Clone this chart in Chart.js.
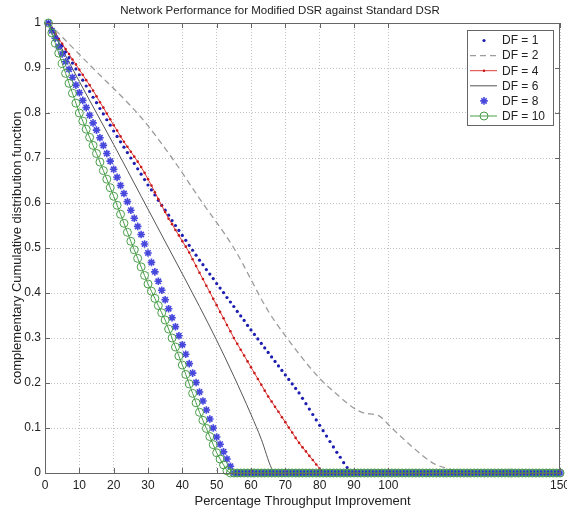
<!DOCTYPE html>
<html>
<head>
<meta charset="utf-8">
<script src="https://cdn.jsdelivr.net/npm/chart.js@4/dist/chart.umd.min.js"></script>
<style>
  html, body { margin: 0; padding: 0; background: #fff; }
  canvas { display: block; }
</style>
</head>
<body>
<canvas id="cdf" width="567" height="516"></canvas>
<script>
// percentage throughput improvement, sampled every 1 %
const xs = [
  1, 2, 3, 4, 5, 6, 7, 8, 9, 10,
  11, 12, 13, 14, 15, 16, 17, 18, 19, 20,
  21, 22, 23, 24, 25, 26, 27, 28, 29, 30,
  31, 32, 33, 34, 35, 36, 37, 38, 39, 40,
  41, 42, 43, 44, 45, 46, 47, 48, 49, 50,
  51, 52, 53, 54, 55, 56, 57, 58, 59, 60,
  61, 62, 63, 64, 65, 66, 67, 68, 69, 70,
  71, 72, 73, 74, 75, 76, 77, 78, 79, 80,
  81, 82, 83, 84, 85, 86, 87, 88, 89, 90,
  91, 92, 93, 94, 95, 96, 97, 98, 99, 100,
  101, 102, 103, 104, 105, 106, 107, 108, 109, 110,
  111, 112, 113, 114, 115, 116, 117, 118, 119, 120,
  121, 122, 123, 124, 125, 126, 127, 128, 129, 130,
  131, 132, 133, 134, 135, 136, 137, 138, 139, 140,
  141, 142, 143, 144, 145, 146, 147, 148, 149, 150
];

const df1 = [
  1.000, 0.987, 0.974, 0.962, 0.949, 0.936, 0.923, 0.911, 0.898, 0.885,
  0.873, 0.860, 0.848, 0.835, 0.823, 0.810, 0.798, 0.785, 0.773, 0.760,
  0.748, 0.736, 0.724, 0.712, 0.700, 0.688, 0.676, 0.664, 0.652, 0.640,
  0.629, 0.618, 0.606, 0.595, 0.584, 0.573, 0.561, 0.550, 0.539, 0.528,
  0.517, 0.506, 0.495, 0.484, 0.473, 0.463, 0.452, 0.442, 0.432, 0.421,
  0.411, 0.401, 0.390, 0.380, 0.370, 0.359, 0.349, 0.339, 0.328, 0.318,
  0.308, 0.298, 0.288, 0.278, 0.268, 0.258, 0.248, 0.238, 0.228, 0.218,
  0.208, 0.198, 0.188, 0.178, 0.166, 0.154, 0.142, 0.130, 0.118, 0.106,
  0.094, 0.082, 0.070, 0.058, 0.046, 0.035, 0.023, 0.012, 0, 0,
  0, 0, 0, 0, 0, 0, 0, 0, 0, 0,
  0, 0, 0, 0, 0, 0, 0, 0, 0, 0,
  0, 0, 0, 0, 0, 0, 0, 0, 0, 0,
  0, 0, 0, 0, 0, 0, 0, 0, 0, 0,
  0, 0, 0, 0, 0, 0, 0, 0, 0, 0,
  0, 0, 0, 0, 0, 0, 0, 0, 0, 0
];

// DF = 2 and DF = 6 are plain lines, read at the bends
const df2X = [1, 13, 28, 37, 45, 55, 65, 70, 80, 85, 90, 93, 97, 101, 107, 113, 118, 121, 150];
const df2 = [1, 0.907, 0.79, 0.70, 0.61, 0.50, 0.36, 0.305, 0.21, 0.175, 0.144, 0.133, 0.128, 0.10, 0.058, 0.022, 0.008, 0, 0];

const df4 = [
  1.000, 0.988, 0.977, 0.965, 0.954, 0.942, 0.931, 0.919, 0.908, 0.896,
  0.885, 0.873, 0.862, 0.850, 0.837, 0.824, 0.812, 0.799, 0.786, 0.773,
  0.761, 0.748, 0.736, 0.725, 0.714, 0.703, 0.692, 0.680, 0.667, 0.653,
  0.639, 0.624, 0.609, 0.594, 0.580, 0.565, 0.553, 0.540, 0.528, 0.515,
  0.503, 0.490, 0.475, 0.460, 0.445, 0.431, 0.416, 0.402, 0.387, 0.373,
  0.358, 0.344, 0.329, 0.315, 0.300, 0.287, 0.274, 0.261, 0.248, 0.235,
  0.222, 0.209, 0.196, 0.183, 0.170, 0.159, 0.147, 0.136, 0.124, 0.113,
  0.101, 0.090, 0.078, 0.067, 0.057, 0.048, 0.038, 0.029, 0.019, 0.010,
  0, 0, 0, 0, 0, 0, 0, 0, 0, 0,
  0, 0, 0, 0, 0, 0, 0, 0, 0, 0,
  0, 0, 0, 0, 0, 0, 0, 0, 0, 0,
  0, 0, 0, 0, 0, 0, 0, 0, 0, 0,
  0, 0, 0, 0, 0, 0, 0, 0, 0, 0,
  0, 0, 0, 0, 0, 0, 0, 0, 0, 0,
  0, 0, 0, 0, 0, 0, 0, 0, 0, 0
];

const df6X = [1, 10, 20, 28, 36, 45, 50, 55, 60, 63, 66, 67, 150];
const df6 = [1, 0.87, 0.73, 0.615, 0.50, 0.37, 0.295, 0.215, 0.13, 0.075, 0.01, 0, 0];

const df8 = [
  1.000, 0.983, 0.966, 0.948, 0.931, 0.914, 0.897, 0.879, 0.862, 0.845,
  0.828, 0.812, 0.795, 0.778, 0.762, 0.745, 0.728, 0.710, 0.693, 0.675,
  0.657, 0.639, 0.621, 0.603, 0.584, 0.566, 0.548, 0.530, 0.509, 0.489,
  0.468, 0.447, 0.426, 0.406, 0.385, 0.365, 0.345, 0.325, 0.305, 0.285,
  0.264, 0.243, 0.222, 0.201, 0.180, 0.160, 0.140, 0.120, 0.100, 0.080,
  0.064, 0.047, 0.031, 0.015, 0, 0, 0, 0, 0, 0,
  0, 0, 0, 0, 0, 0, 0, 0, 0, 0,
  0, 0, 0, 0, 0, 0, 0, 0, 0, 0,
  0, 0, 0, 0, 0, 0, 0, 0, 0, 0,
  0, 0, 0, 0, 0, 0, 0, 0, 0, 0,
  0, 0, 0, 0, 0, 0, 0, 0, 0, 0,
  0, 0, 0, 0, 0, 0, 0, 0, 0, 0,
  0, 0, 0, 0, 0, 0, 0, 0, 0, 0,
  0, 0, 0, 0, 0, 0, 0, 0, 0, 0,
  0, 0, 0, 0, 0, 0, 0, 0, 0, 0
];

const df10 = [
  1.000, 0.978, 0.955, 0.933, 0.910, 0.888, 0.866, 0.844, 0.822, 0.800,
  0.782, 0.764, 0.746, 0.728, 0.710, 0.691, 0.672, 0.653, 0.634, 0.615,
  0.595, 0.575, 0.555, 0.535, 0.515, 0.496, 0.477, 0.458, 0.439, 0.420,
  0.404, 0.388, 0.372, 0.356, 0.340, 0.320, 0.300, 0.280, 0.260, 0.240,
  0.219, 0.198, 0.177, 0.156, 0.135, 0.117, 0.099, 0.081, 0.063, 0.045,
  0.031, 0.018, 0.005, 0, 0, 0, 0, 0, 0, 0,
  0, 0, 0, 0, 0, 0, 0, 0, 0, 0,
  0, 0, 0, 0, 0, 0, 0, 0, 0, 0,
  0, 0, 0, 0, 0, 0, 0, 0, 0, 0,
  0, 0, 0, 0, 0, 0, 0, 0, 0, 0,
  0, 0, 0, 0, 0, 0, 0, 0, 0, 0,
  0, 0, 0, 0, 0, 0, 0, 0, 0, 0,
  0, 0, 0, 0, 0, 0, 0, 0, 0, 0,
  0, 0, 0, 0, 0, 0, 0, 0, 0, 0,
  0, 0, 0, 0, 0, 0, 0, 0, 0, 0
];

const xTicks = [0, 10, 20, 30, 40, 50, 60, 70, 80, 90, 100, 150];
const yTicks = [0, 0.1, 0.2, 0.3, 0.4, 0.5, 0.6, 0.7, 0.8, 0.9, 1];
const seriesNames = ["DF = 1", "DF = 2", "DF = 4", "DF = 6", "DF = 8", "DF = 10"];

const FONT = "'Liberation Sans', Arial, sans-serif";
const TEXT = "#222";

const pts = (x, y) => x.map((v, i) => ({ x: v, y: y[i] }));

const datasets = [
  { // DF = 1 : dots only
    label: seriesNames[0], data: pts(xs, df1), showLine: false,
    pointStyle: "circle", pointRadius: 1.6, pointBorderWidth: 0,
    pointBackgroundColor: "#1c1cb0", borderColor: "#1c1cb0", order: 6
  },
  { // DF = 2 : dashed grey
    label: seriesNames[1], data: pts(df2X, df2),
    borderColor: "#9c9c9c", borderWidth: 1.3, borderDash: [6, 4],
    pointRadius: 0, cubicInterpolationMode: "monotone", order: 5
  },
  { // DF = 4 : red line with dots
    label: seriesNames[2], data: pts(xs, df4),
    borderColor: "#e03a3a", borderWidth: 1, pointStyle: "circle",
    pointRadius: 1.3, pointBorderWidth: 0, pointBackgroundColor: "#c81818", order: 4
  },
  { // DF = 6 : solid dark line
    label: seriesNames[3], data: pts(df6X, df6),
    borderColor: "#555", borderWidth: 1, pointRadius: 0,
    cubicInterpolationMode: "monotone", order: 3
  },
  { // DF = 8 : asterisks
    label: seriesNames[4], data: pts(xs, df8), showLine: false,
    pointStyle: "star", pointRadius: 3.8, pointBorderWidth: 1.6,
    pointBorderColor: "rgba(40,40,215,0.85)", borderColor: "#2828d7", order: 2
  },
  { // DF = 10 : green line with open circles
    label: seriesNames[5], data: pts(xs, df10),
    borderColor: "#4a9e4a", borderWidth: 1, pointStyle: "circle",
    pointRadius: 4, pointBorderWidth: 1, pointBorderColor: "#4a9e4a",
    pointBackgroundColor: "rgba(0,0,0,0)", order: 1
  }
];

// axes box, inward tick marks and the boxed legend in the top right corner
const matlabFrame = {
  id: "matlabFrame",
  afterDraw(chart) {
    const { ctx, chartArea: a, scales } = chart;
    ctx.save();
    ctx.strokeStyle = "#666";
    ctx.lineWidth = 1;
    ctx.strokeRect(a.left + 0.5, a.top + 0.5, a.right - a.left - 1, a.bottom - a.top);
    ctx.beginPath();
    xTicks.forEach(v => {
      const x = Math.round(scales.x.getPixelForValue(v)) + 0.5;
      ctx.moveTo(x, a.bottom); ctx.lineTo(x, a.bottom - 5);
      ctx.moveTo(x, a.top); ctx.lineTo(x, a.top + 5);
    });
    yTicks.forEach(v => {
      const y = Math.round(scales.y.getPixelForValue(v)) + 0.5;
      ctx.moveTo(a.left, y); ctx.lineTo(a.left + 5, y);
      ctx.moveTo(a.right, y); ctx.lineTo(a.right - 5, y);
    });
    ctx.stroke();

    // legend
    const bw = 86, bh = 95;
    const bx = a.right - 7 - bw, by = a.top + 7;
    ctx.fillStyle = "#fff";
    ctx.fillRect(bx, by, bw, bh);
    ctx.strokeStyle = "#666";
    ctx.strokeRect(bx + 0.5, by + 0.5, bw, bh);
    ctx.font = "12px " + FONT;
    ctx.textBaseline = "middle";
    datasets.forEach((ds, i) => {
      const y = by + 10.5 + i * 15.1;
      const x0 = bx + 3, x1 = bx + 30, xm = bx + 17;
      if (ds.showLine !== false) {
        ctx.save();
        ctx.strokeStyle = ds.borderColor;
        ctx.lineWidth = ds.borderWidth;
        ctx.setLineDash(ds.borderDash || []);
        ctx.beginPath(); ctx.moveTo(x0, y); ctx.lineTo(x1, y); ctx.stroke();
        ctx.restore();
      }
      if (ds.pointRadius > 0) {
        ctx.save();
        if (ds.pointStyle === "star") {
          const r = ds.pointRadius;
          ctx.strokeStyle = ds.pointBorderColor;
          ctx.lineWidth = ds.pointBorderWidth;
          ctx.beginPath();
          for (let k = 0; k < 4; k++) {
            const t = k * Math.PI / 4;
            ctx.moveTo(xm - r * Math.cos(t), y - r * Math.sin(t));
            ctx.lineTo(xm + r * Math.cos(t), y + r * Math.sin(t));
          }
          ctx.stroke();
        } else {
          ctx.beginPath();
          ctx.arc(xm, y, ds.pointRadius, 0, Math.PI * 2);
          if (ds.pointBorderWidth > 0) {
            ctx.strokeStyle = ds.pointBorderColor;
            ctx.lineWidth = ds.pointBorderWidth;
            ctx.stroke();
          } else {
            ctx.fillStyle = ds.pointBackgroundColor;
            ctx.fill();
          }
        }
        ctx.restore();
      }
      ctx.fillStyle = TEXT;
      ctx.fillText(ds.label, bx + 35, y + 0.5);
    });
    ctx.restore();
  }
};

new Chart(document.getElementById("cdf").getContext("2d"), {
  type: "line",
  data: { datasets },
  options: {
    responsive: false,
    animation: false,
    devicePixelRatio: 1,
    layout: { padding: { left: 0, right: 7, top: 0, bottom: 0 } },
    elements: { line: { tension: 0 } },
    datasets: { line: { clip: 8 } },
    scales: {
      x: {
        type: "linear", min: 0, max: 150,
        afterBuildTicks: s => { s.ticks = xTicks.map(v => ({ value: v })); },
        afterFit: s => { s.height = 43; s.paddingLeft = 0; s.paddingRight = 0; },
        ticks: { callback: v => String(v), padding: 5, maxRotation: 0, autoSkip: false,
                 color: TEXT, font: { family: FONT, size: 12 } },
        grid: { color: "#c4c4c4", drawTicks: false },
        border: { display: false, dash: [1, 2] },
        title: { display: true, text: "Percentage Throughput Improvement", color: TEXT,
                 font: { family: FONT, size: 13 }, padding: { top: 0, bottom: 7 } }
      },
      y: {
        type: "linear", min: 0, max: 1,
        afterBuildTicks: s => { s.ticks = yTicks.map(v => ({ value: v })); },
        afterFit: s => { s.width = 45; s.paddingTop = 0; s.paddingBottom = 0; },
        ticks: { callback: v => String(Math.round(v * 10) / 10), padding: 4, autoSkip: false,
                 color: TEXT, font: { family: FONT, size: 12 } },
        grid: { color: "#c4c4c4", drawTicks: false },
        border: { display: false, dash: [1, 2] },
        title: { display: true, text: "complementary Cumulative distribution function", color: TEXT,
                 font: { family: FONT, size: 13 }, padding: { top: 10, bottom: 0 } }
      }
    },
    plugins: {
      legend: { display: false },
      tooltip: { enabled: false },
      title: {
        display: true,
        text: "Network Performance for Modified DSR against Standard DSR",
        color: TEXT,
        font: { family: FONT, size: 11.5, weight: "normal" },
        padding: { top: 4, bottom: 5.2 }
      }
    }
  },
  plugins: [matlabFrame]
});
</script>
</body>
</html>
